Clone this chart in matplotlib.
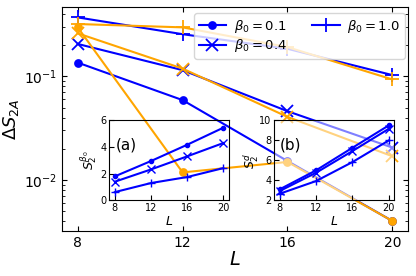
import matplotlib
matplotlib.use("Agg")
import matplotlib.pyplot as plt
import numpy as np

L = [8, 12, 16, 20]
beta_labels = [r"$\beta_0=0.1$", r"$\beta_0=0.4$", r"$\beta_0=1.0$"]
markers = ["o", "x", "+"]

# main panel: Delta S_2A
blue_01 = [0.136, 0.059, 0.0152, 0.0040]
blue_04 = [0.206, 0.115, 0.0461, 0.0205]
blue_10 = [0.372, 0.256, 0.185, 0.103]
orange_01 = [0.298, 0.0118, 0.0149, 0.0040]
orange_04 = [0.261, 0.119, 0.0406, 0.0169]
orange_10 = [0.321, 0.298, 0.192, 0.0935]

# inset (a): S_2^{beta0}
a_01 = [1.80, 2.95, 4.17, 5.45]
a_04 = [1.40, 2.32, 3.30, 4.30]
a_10 = [0.62, 1.30, 1.75, 2.42]

# inset (b): S_2^d
b_01 = [3.10, 5.00, 7.26, 9.50]
b_04 = [2.93, 4.76, 6.93, 9.16]
b_10 = [2.66, 3.93, 5.83, 8.00]

fig = plt.figure(figsize=(4.16, 2.76), dpi=100)
ax = fig.add_axes([0.149, 0.163, 0.832, 0.812])

msz = {"o": 5, "x": 9, "+": 10}
for ys, m, lab in zip([blue_01, blue_04, blue_10], markers, beta_labels):
    ax.plot(L, ys, color="blue", marker=m, ms=msz[m], lw=1.5, mew=1.3, label=lab)
for ys, m in zip([orange_01, orange_04, orange_10], markers):
    ax.plot(L, ys, color="orange", marker=m, ms=msz[m], lw=1.5, mew=1.3)

ax.set_yscale("log")
ax.set_ylim(3.2e-3, 0.47)
ax.set_xticks(L)
ax.tick_params(which="both", direction="in", top=True, right=True, labelsize=10)
ax.set_xlabel(r"$L$", fontsize=14, labelpad=0)
ax.set_ylabel(r"$\Delta S_{2A}$", fontsize=13, labelpad=2)
ax.legend(loc="upper right", bbox_to_anchor=(0.99, 0.973), borderaxespad=0,
          ncol=2, fontsize=9.5, handlelength=2.1,
          columnspacing=1.9, borderpad=0.35, labelspacing=0.2, handletextpad=0.55)

isz = {"o": 3, "x": 6, "+": 6}
# inset (a)
axa = fig.add_axes([0.263, 0.274, 0.287, 0.290])
axa.patch.set_alpha(0.0)
for ys, m in zip([a_01, a_04, a_10], markers):
    axa.plot(L, ys, color="blue", marker=m, ms=isz[m], lw=1.5, mew=1.0)
axa.set_ylim(0, 6)
axa.set_xticks(L)
axa.set_yticks([0, 2, 4, 6])
axa.tick_params(direction="in", labelsize=7, pad=2)
axa.set_xlabel(r"$L$", fontsize=9, labelpad=1)
axa.set_ylabel(r"$S_2^{\beta_0}$", fontsize=9, labelpad=1)
axa.text(0.05, 0.64, "(a)", transform=axa.transAxes, fontsize=11)

# inset (b)
axb = fig.add_axes([0.659, 0.274, 0.289, 0.290])
axb.patch.set_facecolor("white")
axb.patch.set_alpha(0.5)
for ys, m in zip([b_01, b_04, b_10], markers):
    axb.plot(L, ys, color="blue", marker=m, ms=isz[m], lw=1.5, mew=1.0)
axb.set_ylim(2, 10)
axb.set_xticks(L)
axb.set_yticks([2, 4, 6, 8, 10])
axb.tick_params(direction="in", labelsize=7, pad=2)
axb.set_xlabel(r"$L$", fontsize=9, labelpad=1)
axb.set_ylabel(r"$S_2^{d}$", fontsize=9, labelpad=-1)
axb.text(0.05, 0.64, "(b)", transform=axb.transAxes, fontsize=11)

fig.savefig("out.png", dpi=100)
